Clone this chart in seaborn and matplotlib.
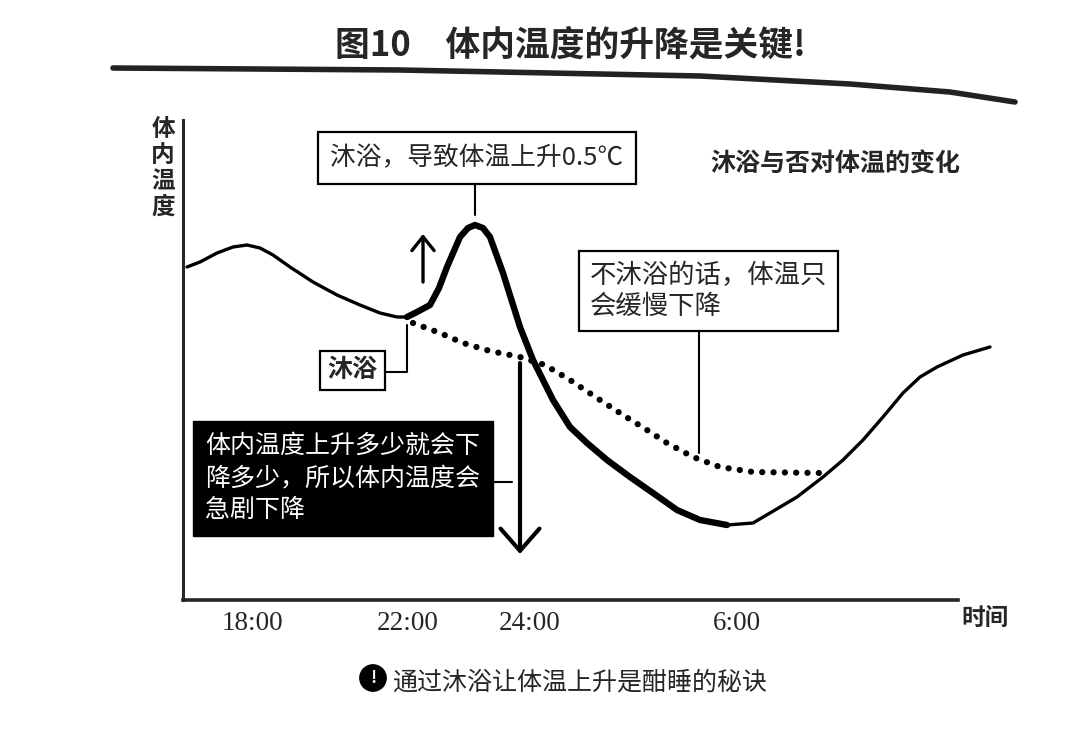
import seaborn as sns
import matplotlib.pyplot as plt
from matplotlib.lines import Line2D

sns.set_style("white")
plt.rcParams["font.family"] = ["Noto Sans CJK SC", "DejaVu Sans"]

# schematic time axis (positions are not linear in hours), temperature in relative units
tick_pos = [6.9, 22.5, 34.7, 55.4]
tick_labels = ["18:00", "22:00", "24:00", "6:00"]

# body temperature with a bath at 22:00
bath_x = [0.4, 1.7, 3.4, 5.0, 6.4, 7.7, 9.0, 10.7, 13.0, 15.4, 17.7, 19.7, 21.4,
          22.4, 23.4, 24.7, 25.6, 26.4, 27.7, 28.5, 29.2, 30.0, 30.7, 32.0, 33.7,
          35.0, 37.0, 38.7, 40.4, 42.4, 44.7, 47.0, 49.4, 51.7, 54.4,
          57.0, 58.7, 61.4, 64.0, 66.0, 68.0, 70.0, 72.0, 73.7, 75.4, 78.0, 80.7]
bath_y = [33.3, 33.8, 34.7, 35.3, 35.5, 35.2, 34.5, 33.3, 31.8, 30.5, 29.5, 28.7, 28.3,
          28.3, 28.8, 29.5, 31.2, 33.3, 36.3, 37.2, 37.5, 37.2, 36.3, 32.7, 27.3,
          24.0, 20.0, 17.3, 15.7, 14.0, 12.3, 10.7, 9.0, 8.0, 7.5,
          7.7, 8.7, 10.3, 12.3, 14.0, 16.0, 18.3, 20.7, 22.3, 23.3, 24.5, 25.3]
bath_start = 13   # index where the bath begins (thick part)
bath_end = 34     # index where the thick part ends

# body temperature without a bath
nobath_x = [23.0, 25.7, 28.0, 30.7, 33.7, 36.2, 38.7, 41.7, 44.0, 46.4, 48.4, 51.0,
            53.7, 57.0, 63.7]
nobath_y = [27.7, 26.7, 25.7, 24.9, 24.3, 23.5, 22.0, 20.0, 18.5, 17.0, 15.7, 14.3,
            13.3, 12.8, 12.7]

fig = plt.figure(figsize=(10.8, 7.37), dpi=100)
ax = fig.add_axes([183 / 1080, 137 / 737, 817 / 1080, 490 / 737])
ax.set_xlim(0, 81.7)
ax.set_ylim(0, 49)

# curves
sns.lineplot(x=bath_x[:bath_start + 1], y=bath_y[:bath_start + 1], ax=ax,
             color="black", lw=2.4, solid_capstyle="round")
sns.lineplot(x=bath_x[bath_start:bath_end + 1], y=bath_y[bath_start:bath_end + 1], ax=ax,
             color="black", lw=4.6, solid_capstyle="round")
sns.lineplot(x=bath_x[bath_end:], y=bath_y[bath_end:], ax=ax,
             color="black", lw=2.4, solid_capstyle="round")
sns.lineplot(x=nobath_x, y=nobath_y, ax=ax, color="black", lw=4.5,
             linestyle=(0, (0.01, 1.8)), dash_capstyle="round")

# axes
for s in ["top", "right"]:
    ax.spines[s].set_visible(False)
ax.spines["left"].set_linewidth(2.2)
ax.spines["bottom"].set_linewidth(2.6)
ax.spines["left"].set_bounds(0, 48)
ax.spines["bottom"].set_bounds(0, 77.5)
ax.set_yticks([])
ax.set_xticks(tick_pos, tick_labels, family="Liberation Serif", fontsize=19.5)
ax.tick_params(axis="x", length=0, pad=8)

# annotations
peak_i = bath_y.index(max(bath_y))
ax.text(29.4, 44.2, "沐浴，导致体温上升0.5℃", ha="center", va="center", fontsize=18.5,
        bbox=dict(boxstyle="square,pad=0.5", fc="white", ec="black", lw=1.6))
ax.plot([bath_x[peak_i]] * 2, [42.0, bath_y[peak_i] + 1.0], color="black", lw=1.5)

ax.annotate("", xy=(24.0, 36.6), xytext=(24.0, 31.8),
            arrowprops=dict(arrowstyle="->,head_length=0.5,head_width=0.4",
                            color="black", lw=2.4, mutation_scale=20,
                            shrinkA=0, shrinkB=0))

ax.text(16.9, 23.0, "沐浴", ha="center", va="center", fontsize=18, fontweight="bold",
        bbox=dict(boxstyle="square,pad=0.3", fc="white", ec="black", lw=1.6))
bx, by = bath_x[bath_start], bath_y[bath_start]
ax.plot([20.2, bx, bx], [22.8, 22.8, by - 0.8], color="black", lw=1.5)

ax.text(40.7, 30.9, "不沐浴的话，体温只\n会缓慢下降", ha="left", va="center", fontsize=19,
        linespacing=1.2,
        bbox=dict(boxstyle="square,pad=0.4", fc="white", ec="black", lw=1.6))
ax.plot([51.6, 51.6], [27.2, nobath_y[11] + 0.4], color="black", lw=1.5)

ax.text(65.2, 43.5, "沐浴与否对体温的变化", ha="center", va="center", fontsize=18,
        fontweight="bold")

ax.text(2.2, 12.2, "体内温度上升多少就会下\n降多少，所以体内温度会\n急剧下降", ha="left",
        va="center", fontsize=18, color="white", linespacing=1.3,
        bbox=dict(boxstyle="square,pad=0.5", fc="black", ec="black"))
ax.plot([30.9, 32.9], [11.8, 11.8], color="black", lw=1.5)
ax.annotate("", xy=(33.7, 4.6), xytext=(33.7, 23.7),
            arrowprops=dict(arrowstyle="->,head_length=0.8,head_width=0.7",
                            color="black", lw=3, mutation_scale=20,
                            shrinkA=0, shrinkB=0))

# figure texts
fig.text(0.528, 0.939, "图10　体内温度的升降是关键!", ha="center", va="center",
         fontsize=25, fontweight="heavy")
fig.add_artist(Line2D([113 / 1080, 400 / 1080, 700 / 1080, 850 / 1080, 950 / 1080, 1015 / 1080],
                      [1 - 68 / 737, 1 - 70 / 737, 1 - 76 / 737, 1 - 84 / 737,
                       1 - 92 / 737, 1 - 102 / 737],
                      color="#222222", lw=4, solid_capstyle="round"))
fig.text(163 / 1080, 1 - 168 / 737, "体\n内\n温\n度", ha="center", va="center",
         fontsize=17, fontweight="bold", linespacing=1.1)
fig.text(985 / 1080, 1 - 618 / 737, "时间", ha="center", va="center", fontsize=17,
         fontweight="bold")
fig.text(373 / 1080, 1 - 678 / 737, "!", ha="center", va="center", fontsize=12,
         fontweight="bold", color="white",
         bbox=dict(boxstyle="circle,pad=0.25", fc="black", ec="black"))
fig.text(392 / 1080, 1 - 682 / 737, "通过沐浴让体温上升是酣睡的秘诀", ha="left",
         va="center", fontsize=18)

fig.savefig("out.png", dpi=100)
